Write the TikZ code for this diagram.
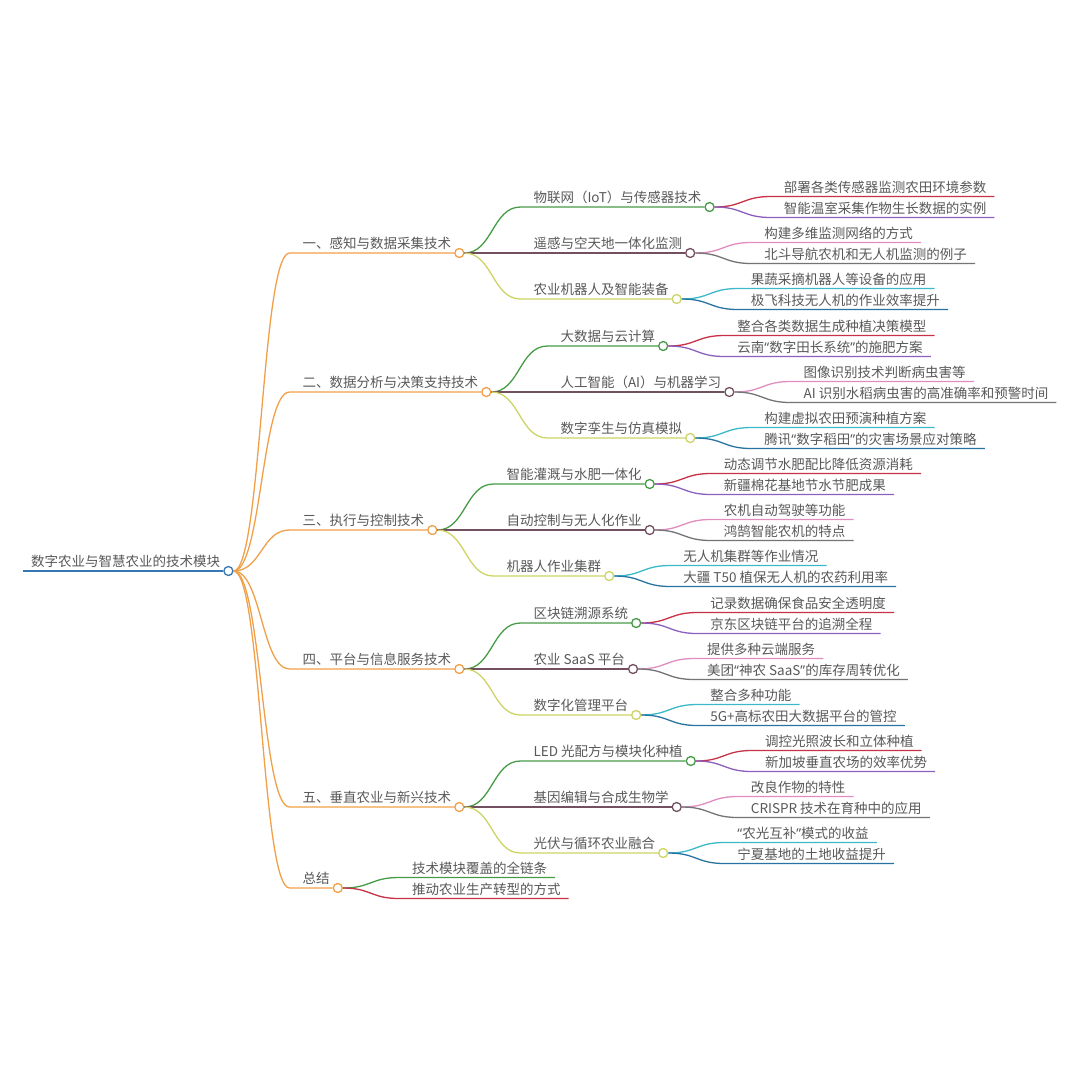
\documentclass[tikz,border=0pt]{standalone}
\usepackage{fontspec}
\newfontfamily\cjk{Noto Sans CJK SC}
\newfontfamily\qfont{Noto Sans}
\usepackage{xcolor}
\usepackage{tikz}
\usetikzlibrary{calc}
\definecolor{txtgray}{RGB}{88,88,88}
\definecolor{rootblue}{RGB}{52,120,180}
\definecolor{orange1}{RGB}{240,160,72}
\definecolor{green2}{RGB}{70,155,70}
\definecolor{maroon2}{RGB}{115,80,95}
\definecolor{yellow2}{RGB}{205,212,100}
\definecolor{red3}{RGB}{200,50,70}
\definecolor{purple3}{RGB}{140,95,190}
\definecolor{pink3}{RGB}{225,140,190}
\definecolor{gray3}{RGB}{115,115,120}
\definecolor{cyan3}{RGB}{60,185,200}
\definecolor{blue3}{RGB}{40,115,160}
\tikzstyle{topic} = [anchor=south west, inner xsep=8pt, inner ysep=1.5pt, text height=11pt, text depth=2.5pt, text=txtgray, font=\fontsize{13.5pt}{16pt}\cjk]
\tikzstyle{knob} = [circle, draw, fill=white, line width=1.3pt, minimum size=9pt, inner sep=0pt]
\tikzstyle{branch} = [line width=1.3pt, to path={let \p1=(\tikztostart.east), \p2=(\tikztotarget.west) in (\p1) .. controls (\x1+28pt,\y1) and (\x1+28pt,\y2) .. (\x1+56pt,\y2) -- (\p2)}]
\tikzstyle{twig} = [line width=1.3pt, to path={let \p1=(\tikztostart.east), \p2=(\tikztotarget.south east) in (\p1) .. controls (\x1+28pt,\y1) and (\x1+28pt,\y2) .. (\x1+56pt,\y2) -- (\p2)}]

\begin{document}
\begin{tikzpicture}[x=1pt, y=-1pt]
    \useasboundingbox (0,0) rectangle (1080,1080);
    % root
    \node (top) [topic] at (23,571) {数字农业与智慧农业的技术模块};
    \node (dot0) [knob, draw=rootblue] at (top.south east) {};
    \draw [rootblue, line width=1.3pt] (top.south west) -- (dot0);
    % modules
    \node (mod1) [topic, xshift=66pt, yshift=318pt] at (dot0) {一、感知与数据采集技术};
    \node (dot1) [knob, draw=orange1] at (mod1.south east) {};
    \node (mod2) [topic, xshift=66pt, yshift=179pt] at (dot0) {二、数据分析与决策支持技术};
    \node (dot2) [knob, draw=orange1] at (mod2.south east) {};
    \node (mod3) [topic, xshift=66pt, yshift=41pt] at (dot0) {三、执行与控制技术};
    \node (dot3) [knob, draw=orange1] at (mod3.south east) {};
    \node (mod4) [topic, xshift=66pt, yshift=-98pt] at (dot0) {四、平台与信息服务技术};
    \node (dot4) [knob, draw=orange1] at (mod4.south east) {};
    \node (mod5) [topic, xshift=66pt, yshift=-236pt] at (dot0) {五、垂直农业与新兴技术};
    \node (dot5) [knob, draw=orange1] at (mod5.south east) {};
    \node (mod6) [topic, xshift=66pt, yshift=-317pt] at (dot0) {总结};
    \node (dot6) [knob, draw=orange1] at (mod6.south east) {};
    \draw [branch, orange1] (dot0) to (dot1);
    \draw [branch, orange1] (dot0) to (dot2);
    \draw [branch, orange1] (dot0) to (dot3);
    \draw [branch, orange1] (dot0) to (dot4);
    \draw [branch, orange1] (dot0) to (dot5);
    \draw [branch, orange1] (dot0) to (dot6);
    % module 1
    \node (mod1a) [topic, xshift=66pt, yshift=46pt] at (dot1) {物联网（IoT）与传感器技术};
    \node (dot1a) [knob, draw=green2] at (mod1a.south east) {};
    \node (mod1b) [topic, xshift=66pt] at (dot1) {遥感与空天地一体化监测};
    \node (dot1b) [knob, draw=maroon2] at (mod1b.south east) {};
    \node (mod1c) [topic, xshift=66pt, yshift=-46pt] at (dot1) {农业机器人及智能装备};
    \node (dot1c) [knob, draw=yellow2] at (mod1c.south east) {};
    \node (mod1aa) [topic, xshift=66pt, yshift=10.5pt] at (dot1a) {部署各类传感器监测农田环境参数};
    \node (mod1ab) [topic, xshift=66pt, yshift=-10.5pt] at (dot1a) {智能温室采集作物生长数据的实例};
    \node (mod1ba) [topic, xshift=66pt, yshift=10.5pt] at (dot1b) {构建多维监测网络的方式};
    \node (mod1bb) [topic, xshift=66pt, yshift=-10.5pt] at (dot1b) {北斗导航农机和无人机监测的例子};
    \node (mod1ca) [topic, xshift=66pt, yshift=10.5pt] at (dot1c) {果蔬采摘机器人等设备的应用};
    \node (mod1cb) [topic, xshift=66pt, yshift=-10.5pt] at (dot1c) {极飞科技无人机的作业效率提升};
    \draw [branch, green2] (dot1) to (dot1a);
    \draw [branch, maroon2] (dot1) to (dot1b);
    \draw [branch, yellow2] (dot1) to (dot1c);
    \draw [twig, red3] (dot1a) to (mod1aa);
    \draw [twig, purple3] (dot1a) to (mod1ab);
    \draw [twig, pink3] (dot1b) to (mod1ba);
    \draw [twig, gray3] (dot1b) to (mod1bb);
    \draw [twig, cyan3] (dot1c) to (mod1ca);
    \draw [twig, blue3] (dot1c) to (mod1cb);
    % module 2
    \node (mod2a) [topic, xshift=66pt, yshift=46pt] at (dot2) {大数据与云计算};
    \node (dot2a) [knob, draw=green2] at (mod2a.south east) {};
    \node (mod2b) [topic, xshift=66pt] at (dot2) {人工智能（AI）与机器学习};
    \node (dot2b) [knob, draw=maroon2] at (mod2b.south east) {};
    \node (mod2c) [topic, xshift=66pt, yshift=-46pt] at (dot2) {数字孪生与仿真模拟};
    \node (dot2c) [knob, draw=yellow2] at (mod2c.south east) {};
    \node (mod2aa) [topic, xshift=66pt, yshift=10.5pt] at (dot2a) {整合各类数据生成种植决策模型};
    \node (mod2ab) [topic, xshift=66pt, yshift=-10.5pt] at (dot2a) {云南{\qfont “}数字田长系统{\qfont ”}的施肥方案};
    \node (mod2ba) [topic, xshift=66pt, yshift=10.5pt] at (dot2b) {图像识别技术判断病虫害等};
    \node (mod2bb) [topic, xshift=66pt, yshift=-10.5pt] at (dot2b) {AI 识别水稻病虫害的高准确率和预警时间};
    \node (mod2ca) [topic, xshift=66pt, yshift=10.5pt] at (dot2c) {构建虚拟农田预演种植方案};
    \node (mod2cb) [topic, xshift=66pt, yshift=-10.5pt] at (dot2c) {腾讯{\qfont “}数字稻田{\qfont ”}的灾害场景应对策略};
    \draw [branch, green2] (dot2) to (dot2a);
    \draw [branch, maroon2] (dot2) to (dot2b);
    \draw [branch, yellow2] (dot2) to (dot2c);
    \draw [twig, red3] (dot2a) to (mod2aa);
    \draw [twig, purple3] (dot2a) to (mod2ab);
    \draw [twig, pink3] (dot2b) to (mod2ba);
    \draw [twig, gray3] (dot2b) to (mod2bb);
    \draw [twig, cyan3] (dot2c) to (mod2ca);
    \draw [twig, blue3] (dot2c) to (mod2cb);
    % module 3
    \node (mod3a) [topic, xshift=66pt, yshift=46pt] at (dot3) {智能灌溉与水肥一体化};
    \node (dot3a) [knob, draw=green2] at (mod3a.south east) {};
    \node (mod3b) [topic, xshift=66pt] at (dot3) {自动控制与无人化作业};
    \node (dot3b) [knob, draw=maroon2] at (mod3b.south east) {};
    \node (mod3c) [topic, xshift=66pt, yshift=-46pt] at (dot3) {机器人作业集群};
    \node (dot3c) [knob, draw=yellow2] at (mod3c.south east) {};
    \node (mod3aa) [topic, xshift=66pt, yshift=10.5pt] at (dot3a) {动态调节水肥配比降低资源消耗};
    \node (mod3ab) [topic, xshift=66pt, yshift=-10.5pt] at (dot3a) {新疆棉花基地节水节肥成果};
    \node (mod3ba) [topic, xshift=66pt, yshift=10.5pt] at (dot3b) {农机自动驾驶等功能};
    \node (mod3bb) [topic, xshift=66pt, yshift=-10.5pt] at (dot3b) {鸿鹄智能农机的特点};
    \node (mod3ca) [topic, xshift=66pt, yshift=10.5pt] at (dot3c) {无人机集群等作业情况};
    \node (mod3cb) [topic, xshift=66pt, yshift=-10.5pt] at (dot3c) {大疆 T50 植保无人机的农药利用率};
    \draw [branch, green2] (dot3) to (dot3a);
    \draw [branch, maroon2] (dot3) to (dot3b);
    \draw [branch, yellow2] (dot3) to (dot3c);
    \draw [twig, red3] (dot3a) to (mod3aa);
    \draw [twig, purple3] (dot3a) to (mod3ab);
    \draw [twig, pink3] (dot3b) to (mod3ba);
    \draw [twig, gray3] (dot3b) to (mod3bb);
    \draw [twig, cyan3] (dot3c) to (mod3ca);
    \draw [twig, blue3] (dot3c) to (mod3cb);
    % module 4
    \node (mod4a) [topic, xshift=66pt, yshift=46pt] at (dot4) {区块链溯源系统};
    \node (dot4a) [knob, draw=green2] at (mod4a.south east) {};
    \node (mod4b) [topic, xshift=66pt] at (dot4) {农业 SaaS 平台};
    \node (dot4b) [knob, draw=maroon2] at (mod4b.south east) {};
    \node (mod4c) [topic, xshift=66pt, yshift=-46pt] at (dot4) {数字化管理平台};
    \node (dot4c) [knob, draw=yellow2] at (mod4c.south east) {};
    \node (mod4aa) [topic, xshift=66pt, yshift=10.5pt] at (dot4a) {记录数据确保食品安全透明度};
    \node (mod4ab) [topic, xshift=66pt, yshift=-10.5pt] at (dot4a) {京东区块链平台的追溯全程};
    \node (mod4ba) [topic, xshift=66pt, yshift=10.5pt] at (dot4b) {提供多种云端服务};
    \node (mod4bb) [topic, xshift=66pt, yshift=-10.5pt] at (dot4b) {美团{\qfont “}神农 SaaS{\qfont ”}的库存周转优化};
    \node (mod4ca) [topic, xshift=66pt, yshift=10.5pt] at (dot4c) {整合多种功能};
    \node (mod4cb) [topic, xshift=66pt, yshift=-10.5pt] at (dot4c) {5G+高标农田大数据平台的管控};
    \draw [branch, green2] (dot4) to (dot4a);
    \draw [branch, maroon2] (dot4) to (dot4b);
    \draw [branch, yellow2] (dot4) to (dot4c);
    \draw [twig, red3] (dot4a) to (mod4aa);
    \draw [twig, purple3] (dot4a) to (mod4ab);
    \draw [twig, pink3] (dot4b) to (mod4ba);
    \draw [twig, gray3] (dot4b) to (mod4bb);
    \draw [twig, cyan3] (dot4c) to (mod4ca);
    \draw [twig, blue3] (dot4c) to (mod4cb);
    % module 5
    \node (mod5a) [topic, xshift=66pt, yshift=46pt] at (dot5) {LED 光配方与模块化种植};
    \node (dot5a) [knob, draw=green2] at (mod5a.south east) {};
    \node (mod5b) [topic, xshift=66pt] at (dot5) {基因编辑与合成生物学};
    \node (dot5b) [knob, draw=maroon2] at (mod5b.south east) {};
    \node (mod5c) [topic, xshift=66pt, yshift=-46pt] at (dot5) {光伏与循环农业融合};
    \node (dot5c) [knob, draw=yellow2] at (mod5c.south east) {};
    \node (mod5aa) [topic, xshift=66pt, yshift=10.5pt] at (dot5a) {调控光照波长和立体种植};
    \node (mod5ab) [topic, xshift=66pt, yshift=-10.5pt] at (dot5a) {新加坡垂直农场的效率优势};
    \node (mod5ba) [topic, xshift=66pt, yshift=10.5pt] at (dot5b) {改良作物的特性};
    \node (mod5bb) [topic, xshift=66pt, yshift=-10.5pt] at (dot5b) {CRISPR 技术在育种中的应用};
    \node (mod5ca) [topic, xshift=66pt, yshift=10.5pt] at (dot5c) {{\qfont “}农光互补{\qfont ”}模式的收益};
    \node (mod5cb) [topic, xshift=66pt, yshift=-10.5pt] at (dot5c) {宁夏基地的土地收益提升};
    \draw [branch, green2] (dot5) to (dot5a);
    \draw [branch, maroon2] (dot5) to (dot5b);
    \draw [branch, yellow2] (dot5) to (dot5c);
    \draw [twig, red3] (dot5a) to (mod5aa);
    \draw [twig, purple3] (dot5a) to (mod5ab);
    \draw [twig, pink3] (dot5b) to (mod5ba);
    \draw [twig, gray3] (dot5b) to (mod5bb);
    \draw [twig, cyan3] (dot5c) to (mod5ca);
    \draw [twig, blue3] (dot5c) to (mod5cb);
    % summary
    \node (mod6a) [topic, xshift=66pt, yshift=10.5pt] at (dot6) {技术模块覆盖的全链条};
    \node (mod6b) [topic, xshift=66pt, yshift=-10.5pt] at (dot6) {推动农业生产转型的方式};
    \draw [twig, green2] (dot6) to (mod6a);
    \draw [twig, red3] (dot6) to (mod6b);
\end{tikzpicture}
\end{document}
